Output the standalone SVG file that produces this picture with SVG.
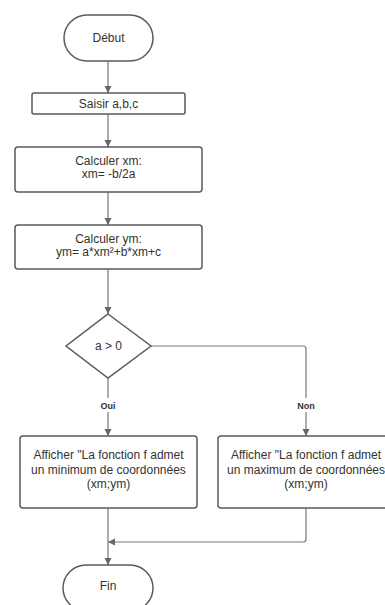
<svg xmlns="http://www.w3.org/2000/svg" width="385" height="605" viewBox="0 0 385 605">
<style>
.n{fill:#fff;stroke:#5a5a5a;stroke-width:1.5}
.t{font-family:"Liberation Sans",Arial,sans-serif;font-size:12px;fill:#333;text-anchor:middle}
.l{font-family:"Liberation Sans",Arial,sans-serif;font-size:9px;font-weight:bold;fill:#333;text-anchor:middle}
.c{fill:none;stroke:#777;stroke-width:1.2}
</style>
<defs>
<marker id="a" markerWidth="8" markerHeight="8" refX="7" refY="4" orient="auto" markerUnits="userSpaceOnUse">
<path d="M0,0.5 L7,4 L0,7.5 Z" fill="#666"/>
</marker>
</defs>
<rect width="385" height="605" fill="#fff"/>
<g id="connectors">
<path class="c" d="M108,61 V93" marker-end="url(#a)"/>
<path class="c" d="M108,114 V147" marker-end="url(#a)"/>
<path class="c" d="M108,192 V225" marker-end="url(#a)"/>
<path class="c" d="M108,269 V314" marker-end="url(#a)"/>
<path class="c" d="M108,378 V398"/>
<path class="c" d="M108,412 V436" marker-end="url(#a)"/>
<path class="c" d="M151,346 H303 Q306,346 306,349 V398"/>
<path class="c" d="M306,412 V436" marker-end="url(#a)"/>
<path class="c" d="M108,508 V565" marker-end="url(#a)"/>
<path class="c" d="M306,508 V539 Q306,542 303,542 H108" marker-end="url(#a)"/>
<text class="l" x="108" y="409">Oui</text>
<text class="l" x="306" y="409">Non</text>
</g>
<g id="debut">
<rect class="n" x="64" y="15" width="89" height="46" rx="23"/>
<text class="t" x="108.5" y="42">Début</text>
</g>
<g id="saisir">
<rect class="n" x="32" y="93" width="153" height="21" rx="2"/>
<text class="t" x="108.5" y="108">Saisir a,b,c</text>
</g>
<g id="calcxm">
<rect class="n" x="15" y="147" width="187" height="45" rx="3"/>
<text class="t" x="108.5" y="165">Calculer xm:</text>
<text class="t" x="108.5" y="178">xm= -b/2a</text>
</g>
<g id="calcym">
<rect class="n" x="15" y="225" width="187" height="44" rx="3"/>
<text class="t" x="108.5" y="243">Calculer ym:</text>
<text class="t" x="108.5" y="256">ym= a*xm²+b*xm+c</text>
</g>
<g id="decision">
<polygon class="n" points="108,314 151,346 108,378 66,346"/>
<text class="t" x="108.5" y="350">a &gt; 0</text>
</g>
<g id="min">
<rect class="n" x="20" y="436" width="177" height="72" rx="3"/>
<text class="t" x="108.5" y="459">Afficher "La fonction f admet</text>
<text class="t" x="108.5" y="474">un minimum de coordonnées</text>
<text class="t" x="108.5" y="488">(xm;ym)</text>
</g>
<g id="max">
<rect class="n" x="218" y="436" width="177" height="72" rx="3"/>
<text class="t" x="306" y="459">Afficher "La fonction f admet</text>
<text class="t" x="306" y="474">un maximum de coordonnées</text>
<text class="t" x="306" y="488">(xm;ym)</text>
</g>
<g id="fin">
<rect class="n" x="63" y="565" width="90" height="46" rx="23"/>
<text class="t" x="108" y="590">Fin</text>
</g>
</svg>
